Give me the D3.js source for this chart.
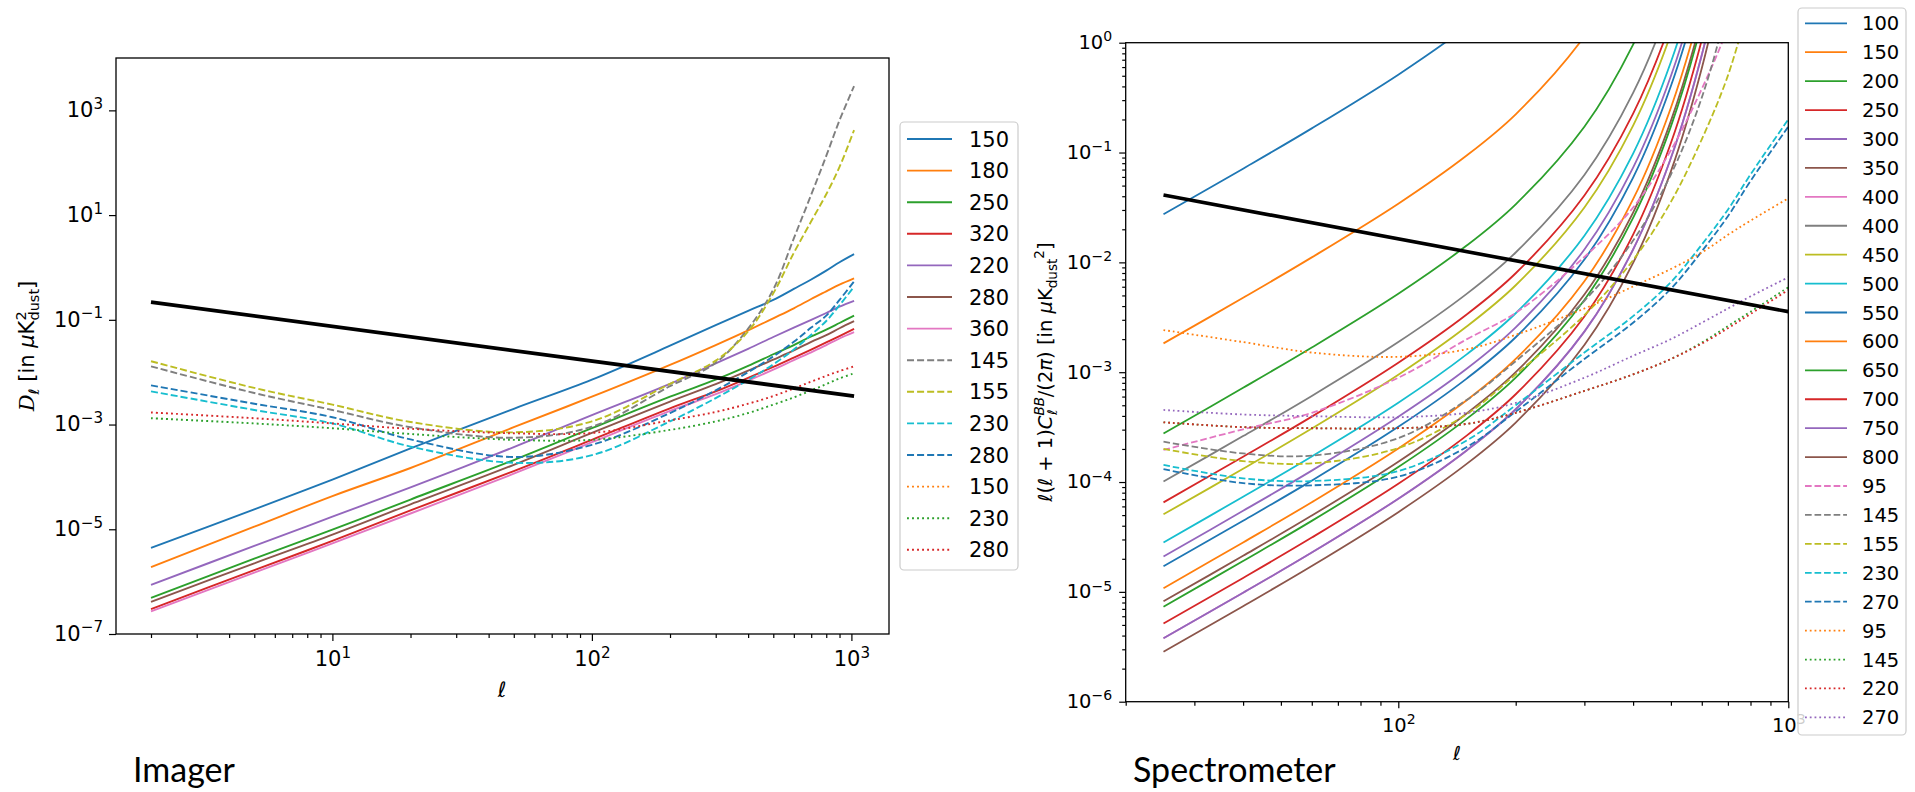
<!DOCTYPE html>
<html>
<head>
<meta charset="utf-8">
<script src="https://cdn.jsdelivr.net/npm/d3@7"></script>
<style>
  body { margin: 0; background: #fff; }
  svg text { font-family: "DejaVu Sans", sans-serif; fill: #000; }
</style>
</head>
<body>
<svg id="fig" width="1915" height="792"></svg>
<script>
const N = null;

// ---------- Imager (left panel) ----------
const imagerEll = [2, 5, 10, 20, 50, 100, 200, 300, 400, 500, 600, 700, 800, 900, 1024];
const imagerLabels = ['150', '180', '250', '320', '220', '280', '360', '145', '155', '230', '280', '150', '230', '280'];
const imagerValues = [
  [4.4e-6, 2.4e-5, 8.9e-5, 3.5e-4, 2.0e-3, 7.2e-3, 3.2e-2, 7.9e-2, 0.148, 0.24, 0.39, 0.59, 0.87, 1.26, 1.8],
  [1.9e-6, 1.12e-5, 4.3e-5, 1.48e-4, 8.9e-4, 3.4e-3, 1.38e-2, 3.3e-2, 6.3e-2, 0.107, 0.166, 0.25, 0.35, 0.47, 0.62],
  [4.9e-7, 2.75e-6, 9.8e-6, 3.7e-5, 2.1e-4, 8.5e-4, 3.4e-3, 7.2e-3, 1.32e-2, 2.2e-2, 3.3e-2, 4.8e-2, 6.5e-2, 8.7e-2, 0.12],
  [3.0e-7, 1.66e-6, 6.0e-6, 2.3e-5, 1.29e-4, 5.1e-4, 2.04e-3, 4.3e-3, 7.8e-3, 1.26e-2, 1.9e-2, 2.7e-2, 3.7e-2, 4.9e-2, 6.7e-2],
  [8.7e-7, 4.8e-6, 1.74e-5, 6.3e-5, 3.7e-4, 1.51e-3, 6.0e-3, 1.48e-2, 2.8e-2, 4.7e-2, 7.1e-2, 0.10, 0.135, 0.178, 0.23],
  [4.1e-7, 2.24e-6, 7.9e-6, 3.0e-5, 1.7e-4, 6.9e-4, 2.75e-3, 5.9e-3, 1.07e-2, 1.74e-2, 2.6e-2, 3.8e-2, 5.1e-2, 6.9e-2, 9.4e-2],
  [2.7e-7, 1.48e-6, 5.4e-6, 2.0e-5, 1.15e-4, 4.6e-4, 1.82e-3, 3.8e-3, 6.9e-3, 1.12e-2, 1.7e-2, 2.4e-2, 3.3e-2, 4.4e-2, 5.8e-2],
  [1.29e-2, 4.0e-3, 1.9e-3, 8.9e-4, 5.6e-4, 9.1e-4, 5.4e-3, 1.51e-2, 6.8e-2, 0.38, 3.6, 24.5, 135, 646, 2900],
  [1.62e-2, 5.0e-3, 2.4e-3, 1.12e-3, 7.1e-4, 1.15e-3, 6.0e-3, 1.66e-2, 6.0e-2, 0.32, 1.9, 7.6, 25, 83, 420],
  [4.3e-3, 1.9e-3, 1.05e-3, 3.8e-4, 1.86e-4, 2.6e-4, 1.15e-3, 3.2e-3, 7.1e-3, 1.41e-2, 2.7e-2, 5.2e-2, 9.5e-2, 0.19, 0.43],
  [5.6e-3, 2.5e-3, 1.38e-3, 5.2e-4, 2.4e-4, 4.1e-4, 1.66e-3, 4.5e-3, 1.0e-2, 2.0e-2, 3.8e-2, 7.1e-2, 0.12, 0.24, 0.54],
  null, // 150 dotted: not visible in the panel
  [1.32e-3, 1.05e-3, 8.5e-4, 6.6e-4, 5.1e-4, 5.1e-4, 7.9e-4, 1.15e-3, 1.66e-3, 2.4e-3, 3.3e-3, 4.5e-3, 5.9e-3, 7.6e-3, 9.5e-3],
  [1.7e-3, 1.32e-3, 1.05e-3, 8.3e-4, 6.8e-4, 6.9e-4, 1.2e-3, 1.74e-3, 2.5e-3, 3.5e-3, 4.9e-3, 6.6e-3, 8.5e-3, 1.05e-2, 1.29e-2]
];
const imagerFloorEll = [2, 1024];
const imagerFloor = [0.218, 0.0035];

// ---------- Spectrometer (right panel) ----------
const specEll = [25, 40, 60, 100, 150, 200, 300, 400, 500, 600, 700, 800, 1000];
const specLabels = ['100', '150', '200', '250', '300', '350', '400', '400', '450', '500', '550', '600', '650', '700', '750', '800',
  '95', '145', '155', '230', '270', '95', '145', '220', '270'];
const specValues = [
  [0.0274, 0.0713, 0.166, 0.512, 1.41, 3.34, N, N, N, N, N, N, N],
  [1.83e-3, 4.76e-3, 1.11e-2, 3.42e-2, 9.44e-2, 0.223, 1.14, 6.35, N, N, N, N, N],
  [2.77e-4, 7.21e-4, 1.68e-3, 5.18e-3, 1.43e-2, 3.38e-2, 0.172, 0.962, 6.55, 56.9, N, N, N],
  [6.53e-5, 1.70e-4, 3.94e-4, 1.22e-3, 3.37e-3, 7.96e-3, 4.06e-2, 0.226, 1.54, 13.4, N, N, N],
  [2.10e-5, 5.47e-5, 1.27e-4, 3.93e-4, 1.08e-3, 2.56e-3, 1.31e-2, 7.29e-2, 0.497, 4.32, 49.2, N, N],
  [8.20e-6, 2.13e-5, 4.95e-5, 1.53e-4, 4.23e-4, 1.0e-3, 5.09e-3, 2.84e-2, 0.194, 1.68, 19.2, N, N],
  [3.78e-6, 9.82e-6, 2.28e-5, 7.05e-5, 1.95e-4, 4.60e-4, 2.34e-3, 1.31e-2, 8.91e-2, 0.774, 8.83, 134, N],
  [1.01e-4, 2.62e-4, 6.08e-4, 1.88e-3, 5.19e-3, 1.23e-2, 6.25e-2, 0.349, 2.38, 20.7, N, N, N],
  [5.08e-5, 1.32e-4, 3.07e-4, 9.48e-4, 2.62e-3, 6.19e-3, 3.16e-2, 0.176, 1.20, 10.4, N, N, N],
  [2.82e-5, 7.35e-5, 1.71e-4, 5.27e-4, 1.46e-3, 3.44e-3, 1.75e-2, 9.79e-2, 0.667, 5.79, 66.1, N, N],
  [1.71e-5, 4.44e-5, 1.03e-4, 3.18e-4, 8.79e-4, 2.08e-3, 1.06e-2, 5.92e-2, 0.403, 3.50, 39.9, N, N],
  [1.08e-5, 2.82e-5, 6.55e-5, 2.02e-4, 5.58e-4, 1.32e-3, 6.73e-3, 3.76e-2, 0.256, 2.22, 25.4, N, N],
  [7.33e-6, 1.91e-5, 4.43e-5, 1.37e-4, 3.78e-4, 8.93e-4, 4.55e-3, 2.54e-2, 0.173, 1.50, 17.1, N, N],
  [5.16e-6, 1.34e-5, 3.12e-5, 9.64e-5, 2.66e-4, 6.30e-4, 3.21e-3, 1.79e-2, 0.122, 1.06, 12.1, N, N],
  [3.78e-6, 9.82e-6, 2.28e-5, 7.05e-5, 1.95e-4, 4.60e-4, 2.34e-3, 1.31e-2, 8.91e-2, 0.774, 8.83, 134, N],
  [2.85e-6, 7.41e-6, 1.72e-5, 5.32e-5, 1.47e-4, 3.48e-4, 1.77e-3, 9.89e-3, 6.73e-2, 0.585, 6.67, 101, N],
  [1.96e-4, 3.02e-4, 4.27e-4, 8.91e-4, 2.0e-3, 3.47e-3, 1.12e-2, 3.16e-2, 0.105, 0.380, 1.38, 6.31, N],
  [2.33e-4, 1.82e-4, 1.74e-4, 2.51e-4, 5.62e-4, 1.26e-3, 4.47e-3, 1.58e-2, 6.31e-2, 0.316, 2.24, 20.0, N],
  [2.0e-4, 1.55e-4, 1.48e-4, 2.04e-4, 4.17e-4, 9.55e-4, 3.31e-3, 1.05e-2, 3.55e-2, 0.132, 0.501, 2.51, N],
  [1.43e-4, 1.08e-4, 1.02e-4, 1.26e-4, 2.40e-4, 5.01e-4, 1.51e-3, 3.24e-3, 6.61e-3, 1.45e-2, 3.02e-2, 6.31e-2, 0.20],
  [1.31e-4, 9.77e-5, 9.33e-5, 1.12e-4, 2.09e-4, 4.37e-4, 1.32e-3, 2.82e-3, 5.75e-3, 1.26e-2, 2.63e-2, 5.50e-2, 0.172],
  [2.42e-3, 1.88e-3, 1.51e-3, 1.38e-3, 1.62e-3, 2.19e-3, 3.80e-3, 6.03e-3, 8.71e-3, 1.23e-2, 1.78e-2, 2.40e-2, 3.83e-2],
  [3.50e-4, 3.16e-4, 3.09e-4, 3.09e-4, 3.39e-4, 4.27e-4, 6.76e-4, 9.55e-4, 1.32e-3, 1.86e-3, 2.63e-3, 3.55e-3, 5.93e-3],
  [3.50e-4, 3.16e-4, 3.09e-4, 3.09e-4, 3.39e-4, 4.27e-4, 6.76e-4, 9.55e-4, 1.32e-3, 1.82e-3, 2.51e-3, 3.39e-3, 5.60e-3],
  [4.53e-4, 4.12e-4, 3.98e-4, 3.89e-4, 4.27e-4, 5.25e-4, 8.91e-4, 1.41e-3, 2.0e-3, 2.82e-3, 3.80e-3, 4.90e-3, 7.31e-3]
];
const specFloorEll = [25, 1000];
const specFloor = [0.041, 0.00356];

// ---------- styling ----------
const C = {
  blue: '#1f77b4', orange: '#ff7f0e', green: '#2ca02c', red: '#d62728', purple: '#9467bd',
  brown: '#8c564b', pink: '#e377c2', gray: '#7f7f7f', olive: '#bcbd22', cyan: '#17becf'
};
const imagerColors = [C.blue, C.orange, C.green, C.red, C.purple, C.brown, C.pink,
  C.gray, C.olive, C.cyan, C.blue, C.orange, C.green, C.red];
const imagerStyles = ['-', '-', '-', '-', '-', '-', '-', '--', '--', '--', '--', ':', ':', ':'];
const specColors = [C.blue, C.orange, C.green, C.red, C.purple, C.brown, C.pink, C.gray, C.olive, C.cyan,
  C.blue, C.orange, C.green, C.red, C.purple, C.brown,
  C.pink, C.gray, C.olive, C.cyan, C.blue, C.orange, C.green, C.red, C.purple];
const specStyles = ['-', '-', '-', '-', '-', '-', '-', '-', '-', '-', '-', '-', '-', '-', '-', '-',
  '--', '--', '--', '--', '--', ':', ':', ':', ':'];

const svg = d3.select('#fig');
const defs = svg.append('defs');

function dashFor(style, lw) {
  if (style === '--') return `${3.7 * lw},${1.6 * lw}`;
  if (style === ':') return `${1 * lw},${1.65 * lw}`;
  return null;
}

function sup(el, d) {
  const e = Math.round(Math.log10(d));
  el.text(null);
  el.append('tspan').text('10');
  el.append('tspan').attr('dy', '-0.55em').attr('font-size', '0.72em')
    .text(e < 0 ? '\u2212' + (-e) : String(e));
}

function drawPanel(p) {
  const g = svg.append('g');
  const x = d3.scaleLog().domain(p.xDomain).range([p.left, p.right]);
  const y = d3.scaleLog().domain(p.yDomain).range([p.bottom, p.top]);

  defs.append('clipPath').attr('id', p.id + '-clip')
    .append('rect')
    .attr('x', p.left).attr('y', p.top)
    .attr('width', p.right - p.left).attr('height', p.bottom - p.top);

  const plot = g.append('g').attr('clip-path', `url(#${p.id}-clip)`);
  const line = d3.line()
    .defined(d => d[1] != null)
    .x(d => x(d[0]))
    .y(d => y(d[1]))
    .curve(d3.curveCatmullRom.alpha(0.5));

  p.values.forEach((vals, i) => {
    if (!vals) return;
    plot.append('path')
      .datum(p.ell.map((l, j) => [l, vals[j]]))
      .attr('d', line)
      .attr('fill', 'none')
      .attr('stroke', p.colors[i])
      .attr('stroke-width', p.lw)
      .attr('stroke-dasharray', dashFor(p.styles[i], p.lw));
  });
  plot.append('path')
    .datum(p.floorEll.map((l, j) => [l, p.floor[j]]))
    .attr('d', line)
    .attr('fill', 'none')
    .attr('stroke', '#000')
    .attr('stroke-width', p.blackLw);

  // axes
  const styleAxis = a => {
    a.select('.domain').remove();
    a.selectAll('line').attr('stroke', '#000').attr('stroke-width', 1.2);
    a.attr('font-family', 'DejaVu Sans').attr('font-size', p.tickFont);
  };
  g.append('g').attr('transform', `translate(0,${p.bottom})`)
    .call(d3.axisBottom(x).tickValues(p.xMinor).tickSize(4).tickFormat(''))
    .call(styleAxis);
  g.append('g').attr('transform', `translate(0,${p.bottom})`)
    .call(d3.axisBottom(x).tickValues(p.xMajor).tickSize(p.majorLen).tickPadding(p.xPad))
    .call(styleAxis)
    .call(a => a.selectAll('.tick text').each(function (d) { sup(d3.select(this), d); }));
  if (p.yMinor.length) {
    g.append('g').attr('transform', `translate(${p.left},0)`)
      .call(d3.axisLeft(y).tickValues(p.yMinor).tickSize(3.5).tickFormat(''))
      .call(styleAxis);
  }
  g.append('g').attr('transform', `translate(${p.left},0)`)
    .call(d3.axisLeft(y).tickValues(p.yMajor).tickSize(p.majorLen).tickPadding(p.yPad))
    .call(styleAxis)
    .call(a => a.selectAll('.tick text').attr('dy', '0.3em').each(function (d) { sup(d3.select(this), d); }));

  g.append('rect')
    .attr('x', p.left).attr('y', p.top)
    .attr('width', p.right - p.left).attr('height', p.bottom - p.top)
    .attr('fill', 'none').attr('stroke', '#000').attr('stroke-width', 1.3);

  // x label
  g.append('text')
    .attr('x', p.xLabel[0]).attr('y', p.xLabel[1])
    .attr('text-anchor', 'middle')
    .attr('font-size', p.tickFont)
    .attr('font-style', 'italic')
    .text('\u2113');

  // legend
  const lg = p.legend;
  const leg = svg.append('g');
  leg.append('rect')
    .attr('x', lg.x).attr('y', lg.y).attr('width', lg.w).attr('height', lg.h)
    .attr('rx', 4)
    .attr('fill', '#fff').attr('fill-opacity', 0.8)
    .attr('stroke', '#cccccc').attr('stroke-width', 1.2);
  p.labels.forEach((lab, i) => {
    const yy = lg.first + i * lg.step;
    leg.append('line')
      .attr('x1', lg.x1).attr('x2', lg.x2).attr('y1', yy).attr('y2', yy)
      .attr('stroke', p.colors[i]).attr('stroke-width', p.lw)
      .attr('stroke-dasharray', dashFor(p.styles[i], p.lw));
    leg.append('text')
      .attr('x', lg.tx).attr('y', yy).attr('dy', '0.36em')
      .attr('font-size', lg.font)
      .text(lab);
  });
}

const dec = k => [2, 3, 4, 5, 6, 7, 8, 9].map(m => m * Math.pow(10, k));

drawPanel({
  id: 'imager',
  left: 116, right: 889, top: 58, bottom: 634,
  xDomain: [1.466, 1396], yDomain: [1e-7, 1e4],
  ell: imagerEll, values: imagerValues, labels: imagerLabels,
  colors: imagerColors, styles: imagerStyles,
  floorEll: imagerFloorEll, floor: imagerFloor,
  lw: 1.9, blackLw: 3.8,
  xMajor: [10, 100, 1000], xMinor: [...dec(0), ...dec(1), ...dec(2)],
  yMajor: [1e-7, 1e-5, 1e-3, 1e-1, 1e1, 1e3], yMinor: [],
  majorLen: 7, xPad: 10, yPad: 6, tickFont: 21,
  xLabel: [502, 697],
  legend: { x: 900, y: 122, w: 118, h: 448, first: 139, step: 31.6, x1: 907, x2: 952, tx: 969, font: 21 }
});

drawPanel({
  id: 'spec',
  left: 1125.7, right: 1788.3, top: 42.7, bottom: 701.7,
  xDomain: [20, 1000], yDomain: [1e-6, 1],
  ell: specEll, values: specValues, labels: specLabels,
  colors: specColors, styles: specStyles,
  floorEll: specFloorEll, floor: specFloor,
  lw: 1.8, blackLw: 3.6,
  xMajor: [100, 1000], xMinor: [...dec(1), ...dec(2)],
  yMajor: [1e-6, 1e-5, 1e-4, 1e-3, 1e-2, 1e-1, 1], yMinor: [-6, -5, -4, -3, -2, -1].flatMap(dec),
  majorLen: 6.5, xPad: 10, yPad: 7, tickFont: 19.5,
  xLabel: [1457, 760],
  legend: { x: 1798, y: 8, w: 108, h: 727, first: 23.3, step: 28.92, x1: 1805, x2: 1847, tx: 1862, font: 19.5 }
});

// y axis labels
const yl = svg.append('text')
  .attr('transform', 'translate(34,346) rotate(-90)')
  .attr('text-anchor', 'middle')
  .attr('font-size', 21);
yl.append('tspan').attr('font-family', 'DejaVu Serif').attr('font-style', 'italic').text('D');
yl.append('tspan').attr('font-size', 14.5).attr('font-style', 'italic').attr('dy', 5).text('\u2113');
yl.append('tspan').attr('dy', -5).text(' [in ');
yl.append('tspan').attr('font-style', 'italic').text('\u03bc');
yl.append('tspan').text('K');
yl.append('tspan').attr('font-size', 14.5).attr('dy', -8).text('2');
yl.append('tspan').attr('font-size', 14.5).attr('dx', -9.2).attr('dy', 13).text('dust');
yl.append('tspan').attr('dy', -5).text(']');

const yr = svg.append('text')
  .attr('transform', 'translate(1052,372) rotate(-90)')
  .attr('text-anchor', 'middle')
  .attr('font-size', 19.5);
yr.append('tspan').attr('font-style', 'italic').text('\u2113');
yr.append('tspan').text('(');
yr.append('tspan').attr('font-style', 'italic').text('\u2113');
yr.append('tspan').text(' + 1)');
yr.append('tspan').attr('font-style', 'italic').text('C');
yr.append('tspan').attr('font-size', 13.6).attr('font-style', 'italic').attr('dy', -8).text('BB');
yr.append('tspan').attr('font-size', 13.6).attr('font-style', 'italic').attr('dx', -18).attr('dy', 13).text('\u2113');
yr.append('tspan').attr('dx', 12).attr('dy', -5).text('/(2');
yr.append('tspan').attr('font-style', 'italic').text('\u03c0');
yr.append('tspan').text(') [in ');
yr.append('tspan').attr('font-style', 'italic').text('\u03bc');
yr.append('tspan').text('K');
yr.append('tspan').attr('font-size', 13.6).attr('dy', 5).text('dust');
yr.append('tspan').attr('font-size', 13.6).attr('dy', -13).text('2');
yr.append('tspan').attr('dy', 8).text(']');

// panel captions
svg.append('text').attr('x', 133).attr('y', 782)
  .style('font-family', 'Lato, "Open Sans", sans-serif').attr('font-size', 34).text('Imager');
svg.append('text').attr('x', 1133).attr('y', 782)
  .style('font-family', 'Lato, "Open Sans", sans-serif').attr('font-size', 34).text('Spectrometer');
</script>
</body>
</html>
